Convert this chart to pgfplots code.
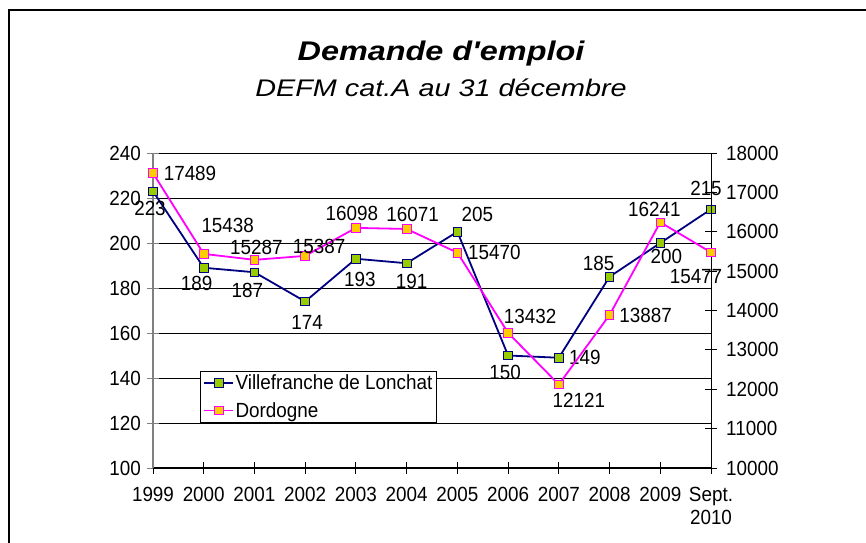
\documentclass[border=0pt]{standalone}
\usepackage{pgfplots}
\pgfplotsset{compat=1.18}
\usepackage{fontspec}
\setmainfont{Liberation Sans}[FakeStretch=0.92]
\newfontfamily\titlefont{Liberation Sans}[FakeStretch=1.2]
\definecolor{navyc}{HTML}{000080}
\definecolor{greenc}{HTML}{99CC00}
\definecolor{goldc}{HTML}{FFCC00}
\definecolor{magc}{HTML}{FF00FF}
\newcommand{\tf}{\fontsize{20.5}{23}\selectfont}
\begin{document}
\begin{tikzpicture}[x=1pt,y=1pt]
\useasboundingbox (0,0) rectangle (866,542);
\draw[line width=2pt] (9.3,-10) -- (9.3,531.7) -- (880,531.7);
\node[anchor=base, inner sep=0pt, font=\titlefont\fontsize{27}{27}\selectfont\bfseries\itshape] at (441,481) {Demande d'emploi};
\node[anchor=base, inner sep=0pt, font=\titlefont\fontsize{24}{25}\selectfont\itshape] at (441,446) {DEFM cat.A au 31 décembre};

\begin{axis}[
  at={(153pt,74pt)}, anchor=south west,
  scale only axis, width=558pt, height=315pt,
  clip=false,
  xmin=0, xmax=11, ymin=100, ymax=240,
  xtick={0,...,11},
  xticklabels={1999,2000,2001,2002,2003,2004,2005,2006,2007,2008,2009,{Sept.\\2010}},
  xticklabel style={align=center, font=\tf, inner sep=0pt, anchor=north, yshift=-13pt},
  ytick={100,120,...,240},
  yticklabel style={font=\tf, inner sep=0pt, anchor=east, xshift=-6pt},
  /pgf/number format/assume math mode=true,
  axis x line*=bottom, axis y line*=left,
  x axis line style={black, line width=1.3pt, -},
  y axis line style={gray, line width=2pt, -},
  tick align=center, major tick length=12pt,
  xtick style={black, line width=1pt},
  ytick style={gray, line width=1pt},
  ymajorgrids, major grid style={black, line width=0.8pt},
  every node near coord/.append style={font=\tf, text=black, inner sep=0pt, anchor=center, xshift=\dx pt, yshift=\dy pt},
]
\addplot[navyc, line width=1.8pt, mark=square*, mark size=4.3pt,
  mark options={fill=greenc, draw=navyc, line width=0.8pt},
  nodes near coords, point meta=explicit symbolic,
  visualization depends on={value \thisrow{dx} \as \dx},
  visualization depends on={value \thisrow{dy} \as \dy}]
 table[x=x, y=y, meta=lab] {
x y lab dx dy
0 223 223 -3 -17
1 189 189 -7 -16
2 187 187 -7 -18
3 174 174 2 -21
4 193 193 4 -21
5 191 191 5 -18
6 205 205 20 17
7 150 150 -3 -17
8 149 149 26 0
9 185 185 -11 13
10 200 200 6 -13
11 215 215 -5 21
};
\end{axis}

\begin{axis}[
  at={(153pt,74pt)}, anchor=south west,
  scale only axis, width=558pt, height=315pt,
  clip=false,
  xmin=0, xmax=11, ymin=10000, ymax=18000,
  axis x line=none, axis y line*=right,
  y axis line style={black, line width=1pt, -},
  ytick={10000,11000,...,18000},
  scaled y ticks=false,
  yticklabel style={font=\tf, inner sep=0pt, anchor=west, xshift=9pt,
    /pgf/number format/1000 sep={}},
  /pgf/number format/assume math mode=true,
  tick align=center, major tick length=12pt,
  ytick style={black, line width=1pt},
  every node near coord/.append style={font=\tf, text=black, inner sep=0pt, anchor=center, xshift=\dx pt, yshift=\dy pt},
  legend style={at={(0.084,0.308)}, anchor=north west, draw=black, line width=0.8pt,
    font=\fontsize{20.5}{21}\selectfont, fill=white, inner xsep=3pt, inner ysep=2pt, row sep=8pt,
    nodes={inner sep=1.5pt}},
  legend cell align=left,
  legend image code/.code={
    \draw[#1, mark repeat=2, mark phase=2] plot coordinates {(0pt,0pt) (14.5pt,0pt) (29pt,0pt)};
  },
]
\addlegendimage{navyc, line width=1.8pt, mark=square*, mark size=4.3pt,
  mark options={fill=greenc, draw=navyc, line width=0.8pt}}
\addlegendentry{Villefranche de Lonchat}
\addplot[magc, line width=1.8pt, mark=square*, mark size=4.3pt,
  mark options={fill=goldc, draw=magc, line width=0.8pt},
  nodes near coords, point meta=explicit symbolic,
  visualization depends on={value \thisrow{dx} \as \dx},
  visualization depends on={value \thisrow{dy} \as \dy}]
 table[x=x, y=y, meta=lab] {
x y lab dx dy
0 17489 17489 37 0
1 15438 15438 24 28
2 15287 15287 2 12
3 15387 15387 14 9
4 16098 16098 -4 14
5 16071 16071 6 15
6 15470 15470 37 0
7 13432 13432 22 16
8 12121 12121 20 -16
9 13887 13887 36 0
10 16241 16241 -6 13
11 15477 15477 -15 -24
};
\addlegendentry{Dordogne}
\end{axis}
\end{tikzpicture}
\end{document}
